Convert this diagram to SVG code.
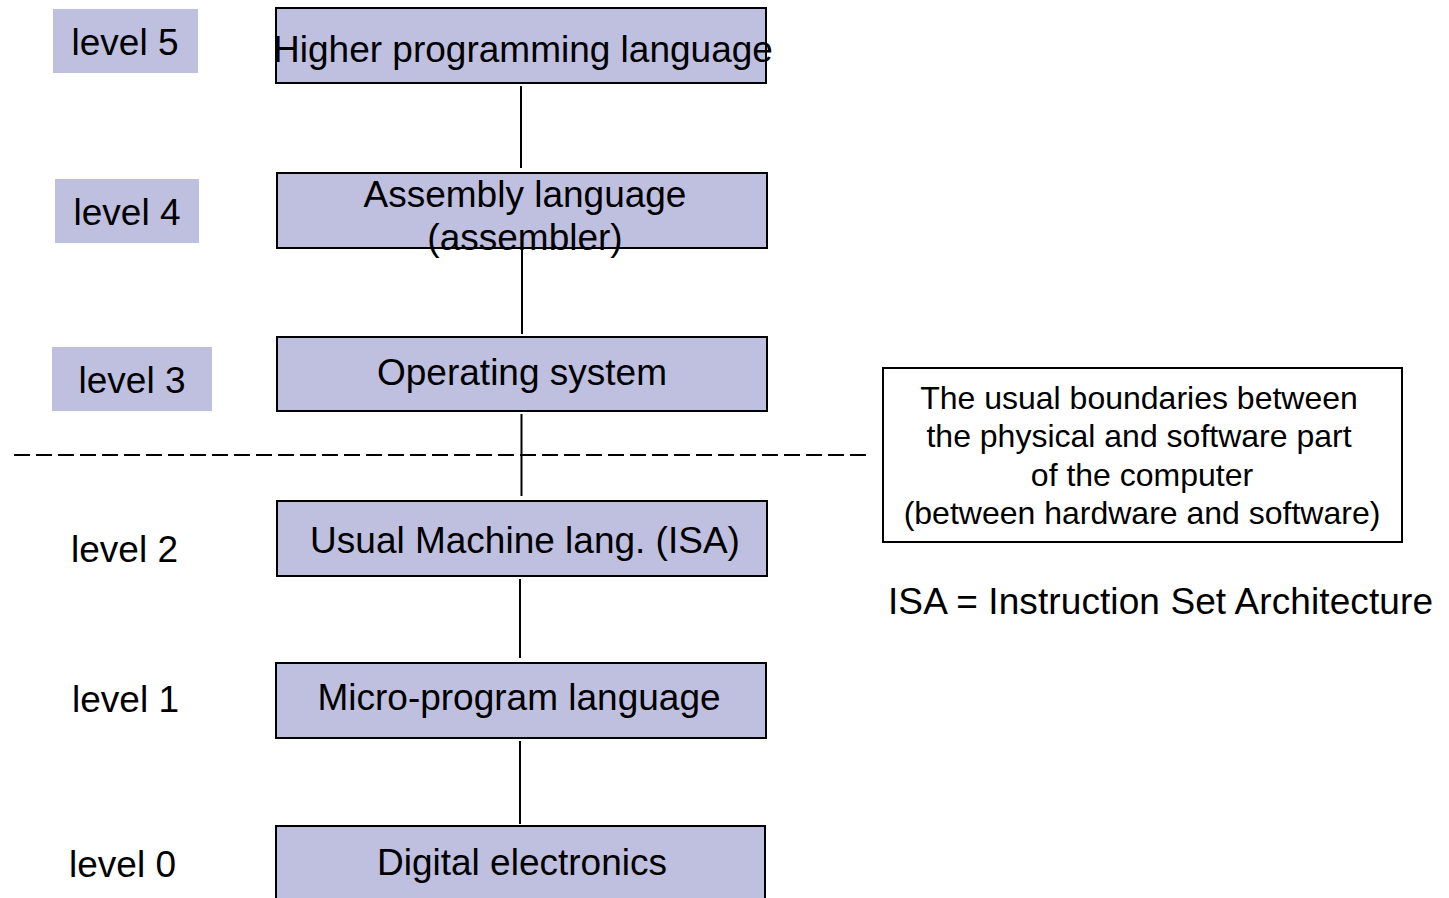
<svg xmlns="http://www.w3.org/2000/svg" width="1449" height="898" viewBox="0 0 1449 898">
<style>
text{font-family:"Liberation Sans",Arial,sans-serif;fill:#000}
.t{font-size:37px}
.s{font-size:32px}
.box{fill:#BFBFDF;stroke:#000;stroke-width:2}
.lab{fill:#BFBFDF}
.c{stroke:#000;stroke-width:2;fill:none}
</style>
<rect width="1449" height="898" fill="#fff"/>
<g id="connectors">
<line class="c" x1="521" y1="86" x2="521" y2="168"/>
<line class="c" x1="522" y1="250" x2="522" y2="334"/>
<line class="c" x1="521.5" y1="414" x2="521.5" y2="496"/>
<line class="c" x1="520" y1="579" x2="520" y2="658"/>
<line class="c" x1="520" y1="741" x2="520" y2="824"/>
<line class="c" x1="14" y1="455" x2="866" y2="455" stroke-dasharray="16,6"/>
</g>
<g id="level5"><rect class="lab" x="53" y="9" width="145" height="64"/><text class="t" x="125" y="55" text-anchor="middle">level 5</text></g>
<g id="level4"><rect class="lab" x="55" y="179" width="144" height="64"/><text class="t" x="127" y="225" text-anchor="middle">level 4</text></g>
<g id="level3"><rect class="lab" x="52" y="347" width="160" height="64"/><text class="t" x="132" y="393" text-anchor="middle">level 3</text></g>
<g id="level2"><text class="t" x="71" y="562">level 2</text></g>
<g id="level1"><text class="t" x="72" y="712">level 1</text></g>
<g id="level0"><text class="t" x="69" y="877">level 0</text></g>
<g id="n5"><rect class="box" x="276" y="8" width="490" height="75"/><text class="t" x="523" y="62" text-anchor="middle">Higher programming language</text></g>
<g id="n4"><rect class="box" x="277" y="173" width="490" height="75"/><text class="t" x="525" y="207" text-anchor="middle">Assembly language</text><text class="t" x="525" y="250" text-anchor="middle">(assembler)</text></g>
<g id="n3"><rect class="box" x="277" y="337" width="490" height="74"/><text class="t" x="522" y="385" text-anchor="middle">Operating system</text></g>
<g id="n2"><rect class="box" x="277" y="501" width="490" height="75"/><text class="t" x="525" y="553" text-anchor="middle">Usual Machine lang. (ISA)</text></g>
<g id="n1"><rect class="box" x="276" y="663" width="490" height="75"/><text class="t" x="519" y="710" text-anchor="middle">Micro-program language</text></g>
<g id="n0"><rect class="box" x="276" y="826" width="489" height="80"/><text class="t" x="522" y="875" text-anchor="middle">Digital electronics</text></g>
<g id="note"><rect x="883" y="368" width="519" height="174" fill="#fff" stroke="#000" stroke-width="2"/>
<text class="s" text-anchor="middle"><tspan x="1139" y="409">The usual boundaries between</tspan><tspan x="1139" y="447">the physical and software part</tspan><tspan x="1142" y="486">of the computer</tspan><tspan x="1142" y="524">(between hardware and software)</tspan></text></g>
<g id="isa"><text class="t" x="888" y="614" textLength="545">ISA = Instruction Set Architecture</text></g>
</svg>
